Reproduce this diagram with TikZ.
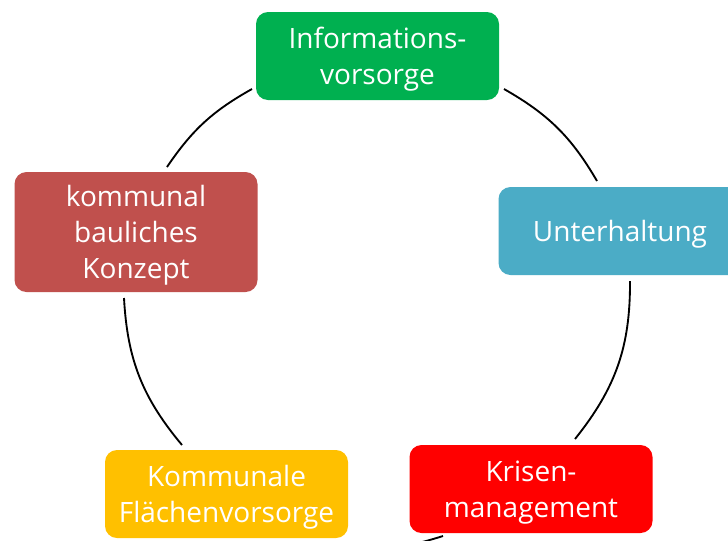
\documentclass[tikz,border=0pt]{standalone}
\usepackage{fontspec}
\setmainfont{Open Sans}
\definecolor{infogreen}{HTML}{00B050}
\definecolor{unterblue}{HTML}{4BACC6}
\definecolor{krisenred}{HTML}{FF0000}
\definecolor{flaechgold}{HTML}{FFC000}
\definecolor{baubrick}{HTML}{C0504D}
\begin{document}
\begin{tikzpicture}[x=0.75pt,y=-0.75pt,
  box/.style={rounded corners=9pt, minimum width=182.25pt, minimum height=66pt, inner sep=0pt},
  boxtext/.style={text=white, font=\fontsize{21}{27}\selectfont, align=center, inner sep=0pt, yshift=-2.5pt},
  arcline/.style={line width=1.4pt, black}]
\clip (0,0) rectangle (728,540);
\fill[white] (0,0) rectangle (728,540);
% arc end points
\coordinate (infoR) at (504,89);
\coordinate (unterT) at (597,181);
\coordinate (unterB) at (630,281);
\coordinate (krisenT) at (575,439);
\coordinate (krisenB) at (443,536);
\coordinate (flaecheB) at (313,542);
\coordinate (flaecheT) at (182,445);
\coordinate (bauB) at (124,298);
\coordinate (bauT) at (167,167);
\coordinate (infoL) at (252,89);
% arcs
\draw[arcline] (infoR) to[bend left=15] (unterT);
\draw[arcline] (unterB) to[bend left=19.5] (krisenT);
\draw[arcline] (krisenB) to[bend left=15] (flaecheB);
\draw[arcline] (flaecheT) to[bend left=18.4] (bauB);
\draw[arcline] (bauT) to[bend left=13.3] (infoL);
% boxes
\node[box, fill=infogreen, label={[boxtext]center:{Informations-\\vorsorge}}] (info) at (377.5,56) {};
\node[box, fill=unterblue, label={[boxtext]center:{Unterhaltung}}] (unter) at (620,231) {};
\node[box, fill=krisenred, label={[boxtext]center:{Krisen-\\management}}] (krisen) at (531,489) {};
\node[box, fill=flaechgold, label={[boxtext]center:{Kommunale\\Flächenvorsorge}}] (flaeche) at (226.5,494) {};
\node[box, fill=baubrick, minimum height=90pt, label={[boxtext]center:{kommunal\\bauliches\\Konzept}}] (bau) at (136,232) {};
\end{tikzpicture}
\end{document}
